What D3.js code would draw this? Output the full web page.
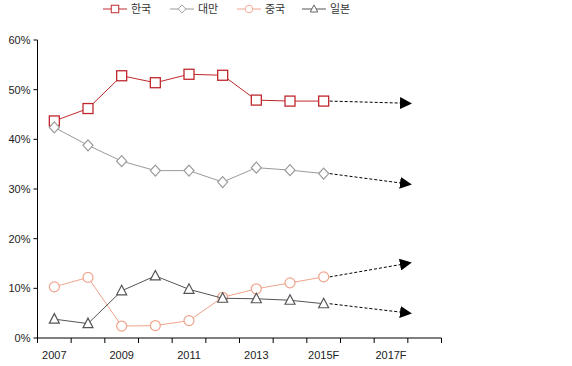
<!DOCTYPE html>
<html>
<head>
<meta charset="utf-8">
<script src="https://cdn.jsdelivr.net/npm/d3@7"></script>
<style>
  body { margin: 0; background: #fff; }
  text { font-family: "Liberation Sans", Arial, sans-serif; }
  .kr { font-family: "Noto Sans CJK KR", sans-serif; }
</style>
</head>
<body>
<svg id="chart" width="572" height="366"></svg>
<script>
// categories on the x axis
let years = ['2007','2008','2009','2010','2011','2012','2013','2014','2015F','2016F','2017F','2018F']
let shownYears = ['2007','2009','2011','2013','2015F','2017F']
let yTicks = [0, 10, 20, 30, 40, 50, 60]

// share (%) by year 2007..2015F
let korea  = [43.7, 46.2, 52.8, 51.4, 53.1, 52.9, 47.9, 47.7, 47.7]
let taiwan = [42.4, 38.8, 35.6, 33.7, 33.7, 31.4, 34.3, 33.8, 33.1]
let china  = [10.3, 12.2, 2.4, 2.5, 3.5, 8.2, 9.9, 11.1, 12.3]
let japan  = [3.8, 2.9, 9.5, 12.5, 9.8, 8.0, 7.9, 7.6, 6.9]

// forecast arrows 2015F -> 2017F
let forecast = [47.3, 31.2, 14.8, 5.2]

let names = ['한국', '대만', '중국', '일본']
let colors = ['#c0282d', '#9a9a9a', '#f0a48c', '#555555']
let shapes = ['square', 'diamond', 'circle', 'triangle']

let series = [korea, taiwan, china, japan]

let svg = d3.select('#chart')

let x = d3.scaleBand().domain(years).range([37.5, 441.5])
let y = d3.scaleLinear().domain([0, 60]).range([338, 40])
let cx = (yr) => x(yr) + x.bandwidth() / 2

// arrow head
svg.append('defs').append('marker')
   .attr('id', 'arrow')
   .attr('viewBox', '0 0 12 12')
   .attr('refX', 1).attr('refY', 6)
   .attr('markerWidth', 12).attr('markerHeight', 12)
   .attr('markerUnits', 'userSpaceOnUse')
   .attr('orient', 'auto')
   .append('path')
   .attr('d', 'M0,0 L12,6 L0,12 Z')
   .attr('fill', '#000')

// y axis
let yAxis = svg.append('g').attr('transform', 'translate(37.5,0)')
yAxis.append('line').attr('y1', y(60)).attr('y2', y(0)).attr('stroke', '#000')
yAxis.selectAll('.tick').data(yTicks).enter().append('line')
     .attr('x1', -4).attr('x2', 0)
     .attr('y1', d => y(d)).attr('y2', d => y(d))
     .attr('stroke', '#000')
yAxis.selectAll('text').data(yTicks).enter().append('text')
     .attr('x', -7).attr('y', d => y(d) + 4)
     .attr('text-anchor', 'end')
     .attr('font-size', 11).attr('fill', '#222')
     .text(d => d + '%')

// x axis, ticks on band edges
let xAxis = svg.append('g')
xAxis.append('line').attr('x1', x.range()[0]).attr('x2', x.range()[1])
     .attr('y1', y(0)).attr('y2', y(0)).attr('stroke', '#000')
let edges = years.map(d => x(d)).concat([x.range()[1]])
xAxis.selectAll('.tick').data(edges).enter().append('line')
     .attr('x1', d => d).attr('x2', d => d)
     .attr('y1', y(0)).attr('y2', y(0) + 5)
     .attr('stroke', '#000')
xAxis.selectAll('text').data(shownYears).enter().append('text')
     .attr('x', d => cx(d)).attr('y', 359)
     .attr('text-anchor', 'middle')
     .attr('font-size', 11).attr('fill', '#222')
     .text(d => d)

let drawMarker = (g, shape, color, px, py) => {
    if (shape == 'square') {
        g.append('rect').attr('x', px - 5).attr('y', py - 5)
         .attr('width', 10).attr('height', 10)
         .attr('fill', '#fff').attr('stroke', color).attr('stroke-width', 1.3)
    } else if (shape == 'diamond') {
        g.append('path').attr('d', `M${px},${py-5.5} L${px+5},${py} L${px},${py+5.5} L${px-5},${py} Z`)
         .attr('fill', '#fff').attr('stroke', color).attr('stroke-width', 1.2)
    } else if (shape == 'circle') {
        g.append('circle').attr('cx', px).attr('cy', py).attr('r', 5)
         .attr('fill', '#fff').attr('stroke', color).attr('stroke-width', 1.2)
    } else {
        g.append('path').attr('d', `M${px},${py-5.5} L${px+5},${py+4} L${px-5},${py+4} Z`)
         .attr('fill', '#fff').attr('stroke', color).attr('stroke-width', 1.2)
    }
}

let line = d3.line().x((d, i) => cx(years[i])).y(d => y(d))

// dashed forecast arrows
series.forEach((s, k) => {
    svg.append('line')
       .attr('x1', cx('2015F') + 6).attr('y1', y(s[s.length - 1]))
       .attr('x2', cx('2017F') + 10).attr('y2', y(forecast[k]))
       .attr('stroke', '#000').attr('stroke-width', 1)
       .attr('stroke-dasharray', '3,2')
       .attr('marker-end', 'url(#arrow)')
})

// series lines and markers
series.forEach((s, k) => {
    svg.append('path').datum(s)
       .attr('d', line)
       .attr('fill', 'none')
       .attr('stroke', colors[k]).attr('stroke-width', 1)
    let g = svg.append('g')
    s.forEach((v, i) => drawMarker(g, shapes[k], colors[k], cx(years[i]), y(v)))
})

// legend
let legendX = [103, 170, 237, 302]
let legendY = 9
names.forEach((n, k) => {
    let g = svg.append('g')
    g.append('line').attr('x1', legendX[k]).attr('x2', legendX[k] + 24)
     .attr('y1', legendY).attr('y2', legendY).attr('stroke', colors[k])
    let mg = g.append('g').attr('transform', `translate(${legendX[k] + 12},${legendY}) scale(0.75)`)
    drawMarker(mg, shapes[k], colors[k], 0, 0)
    g.append('text').attr('class', 'kr')
     .attr('x', legendX[k] + 28).attr('y', legendY + 4)
     .attr('font-size', 11).attr('fill', '#333')
     .text(n)
})
</script>
</body>
</html>
